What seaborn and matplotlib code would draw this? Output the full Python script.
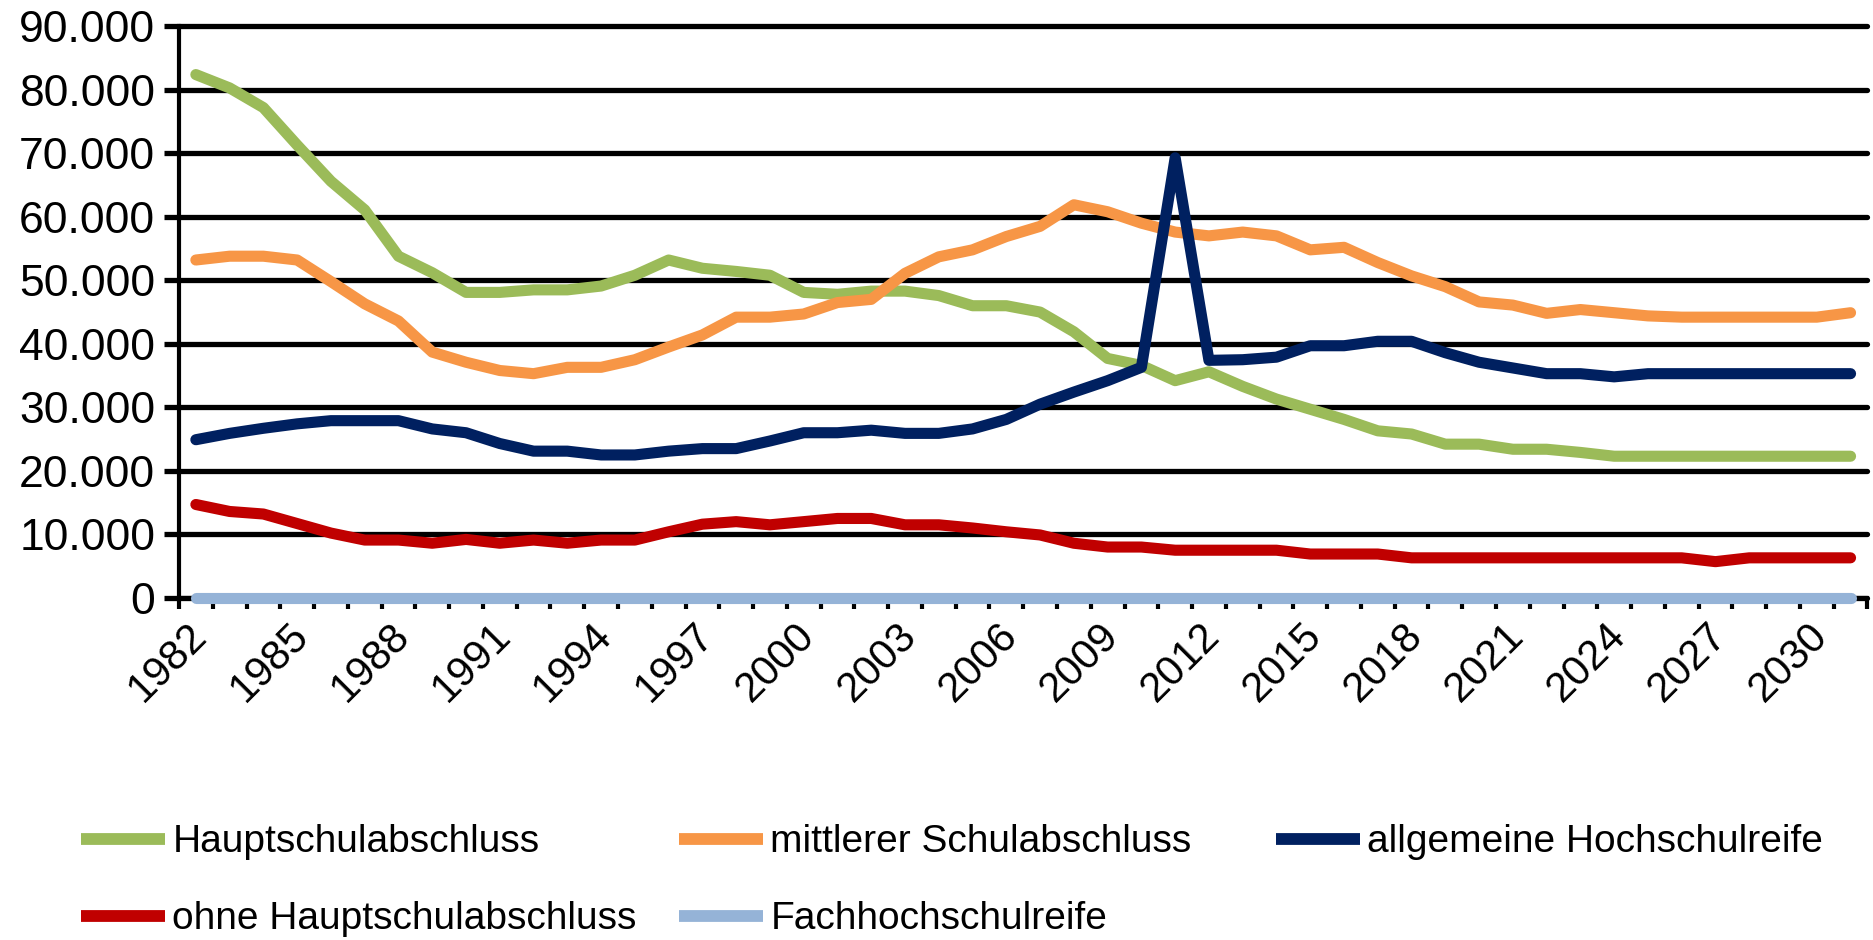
import matplotlib
matplotlib.use("Agg")
import matplotlib.pyplot as plt
import matplotlib.transforms as mtransforms
from matplotlib.ticker import FuncFormatter, MultipleLocator, FixedLocator
from matplotlib.lines import Line2D
import numpy as np
import pandas as pd
import seaborn as sns

# ---------------- data ----------------
years = list(range(1982, 2032))

hauptschulabschluss = [82.4, 80.3, 77.2, 71.3, 65.6, 61.1, 53.8, 51.2, 48.1, 48.1,
                       48.5, 48.5, 49.1, 50.8, 53.2, 51.9, 51.4, 50.8, 48.1, 47.8,
                       48.3, 48.3, 47.6, 46.0, 46.0, 45.0, 41.9, 37.7, 36.6, 34.2,
                       35.6, 33.3, 31.3, 29.7, 28.1, 26.3, 25.8, 24.2, 24.2, 23.4,
                       23.4, 22.9, 22.3, 22.3, 22.3, 22.3, 22.3, 22.3, 22.3, 22.3]
mittlerer = [53.2, 53.8, 53.8, 53.2, 49.8, 46.3, 43.6, 38.7, 37.1, 35.8,
             35.3, 36.3, 36.3, 37.5, 39.5, 41.4, 44.2, 44.2, 44.7, 46.5,
             47.0, 51.1, 53.7, 54.8, 56.9, 58.5, 61.9, 60.8, 59.0, 57.6,
             57.0, 57.6, 57.0, 54.8, 55.2, 52.8, 50.7, 49.0, 46.6, 46.1,
             44.8, 45.4, 44.9, 44.4, 44.2, 44.2, 44.2, 44.2, 44.2, 44.9]
allgemeine = [24.9, 25.9, 26.7, 27.4, 27.9, 27.9, 27.9, 26.6, 26.0, 24.3,
              23.1, 23.1, 22.5, 22.5, 23.1, 23.5, 23.5, 24.7, 26.0, 26.0,
              26.4, 25.9, 25.9, 26.6, 28.1, 30.5, 32.4, 34.2, 36.3, 69.3,
              37.4, 37.5, 37.9, 39.7, 39.7, 40.4, 40.4, 38.6, 37.1, 36.2,
              35.3, 35.3, 34.8, 35.3, 35.3, 35.3, 35.3, 35.3, 35.3, 35.3]
ohne = [14.7, 13.6, 13.2, 11.7, 10.2, 9.1, 9.1, 8.6, 9.2, 8.6,
        9.1, 8.6, 9.1, 9.1, 10.4, 11.6, 12.0, 11.5, 12.0, 12.5,
        12.5, 11.5, 11.5, 11.0, 10.4, 9.9, 8.6, 8.0, 8.0, 7.5,
        7.5, 7.5, 7.5, 6.9, 6.9, 6.9, 6.3, 6.3, 6.3, 6.3,
        6.3, 6.3, 6.3, 6.3, 6.3, 5.7, 6.3, 6.3, 6.3, 6.3]
fachhochschulreife = [0.0] * 50

series_names = ["Hauptschulabschluss", "mittlerer Schulabschluss",
                "allgemeine Hochschulreife", "ohne Hauptschulabschluss",
                "Fachhochschulreife"]
series_values = [hauptschulabschluss, mittlerer, allgemeine, ohne, fachhochschulreife]
colors = ["#9BBB59", "#F79646", "#002060", "#C00000", "#95B3D7"]

tick_years = list(range(1982, 2031, 3))

# ---------------- style ----------------
sns.set_theme(style="white")
plt.rcParams["font.family"] = ["Liberation Sans", "DejaVu Sans"]
plt.rcParams["text.color"] = "black"
plt.rcParams["xtick.color"] = "black"
plt.rcParams["ytick.color"] = "black"

rows = []
for name, vals in zip(series_names, series_values):
    for i, (y, v) in enumerate(zip(years, vals)):
        rows.append({"idx": i, "year": y, "value": v * 1000, "series": name})
df = pd.DataFrame(rows)

fig = plt.figure(figsize=(18.74, 9.40), dpi=100)
ax = fig.add_axes([0.0955, 0.364, 0.901, 0.608])

sns.lineplot(data=df, x="idx", y="value", hue="series", hue_order=series_names,
             palette=dict(zip(series_names, colors)), linewidth=8, ax=ax,
             legend=False, zorder=3)
for ln in ax.get_lines():
    ln.set_clip_on(False)
    ln.set_zorder(4)

ax.set_xlim(-0.5, len(years) - 0.5)
ax.set_ylim(0, 90000)
ax.yaxis.set_major_locator(MultipleLocator(10000))
ax.yaxis.set_major_formatter(FuncFormatter(lambda v, p: f"{int(v):,}".replace(",", ".")))
ax.grid(axis="y", color="black", linewidth=3.8, zorder=1)
ax.grid(axis="x", visible=False)
ax.set_axisbelow(True)
for gl in ax.get_ygridlines():
    gl.set_clip_on(False)

for s in ["top", "right"]:
    ax.spines[s].set_visible(False)
for s in ["left", "bottom"]:
    ax.spines[s].set_color("black")
    ax.spines[s].set_linewidth(3.0)
    ax.spines[s].set_zorder(2)

ax.tick_params(axis="y", which="major", direction="out", length=11, width=3.8,
               color="black", labelcolor="black", pad=6, labelsize=32, left=True)

# x ticks: labels every third year, small tick marks between categories
tick_idx = [years.index(y) for y in tick_years]
ax.xaxis.set_major_locator(FixedLocator(tick_idx))
ax.set_xticklabels([str(y) for y in tick_years])
ax.xaxis.set_minor_locator(FixedLocator(np.arange(-0.5, len(years), 1.0)))
ax.tick_params(axis="x", which="major", length=0, pad=13, labelsize=30,
               labelcolor="black", bottom=True)
ax.tick_params(axis="x", which="minor", direction="out", length=8, width=3,
               color="black", bottom=True)
offset = mtransforms.ScaledTranslation(-9 / 100, 0, fig.dpi_scale_trans)
for lab in ax.get_xticklabels():
    lab.set_rotation(45)
    lab.set_ha("right")
    lab.set_va("top")
    lab.set_rotation_mode("anchor")
    lab.set_transform(lab.get_transform() + offset)

ax.set_xlabel("")
ax.set_ylabel("")

# ---------------- legend (row-major, three columns) ----------------
handles = [Line2D([0], [0], color=c, lw=8.5, solid_capstyle="butt") for c in colors]
columns = [[0, 3], [1, 4], [2]]
col_x = [0.0432, 0.3623, 0.6809]
for cx, idxs in zip(col_x, columns):
    fig.legend([handles[i] for i in idxs], [series_names[i] for i in idxs],
               loc="upper left", bbox_to_anchor=(cx, 0.123), frameon=False,
               borderpad=0, borderaxespad=0, handlelength=2.15, handletextpad=0.2,
               labelspacing=1.05, prop={"size": 28}, labelcolor="black")

fig.savefig("out.png", dpi=100, facecolor="white")
